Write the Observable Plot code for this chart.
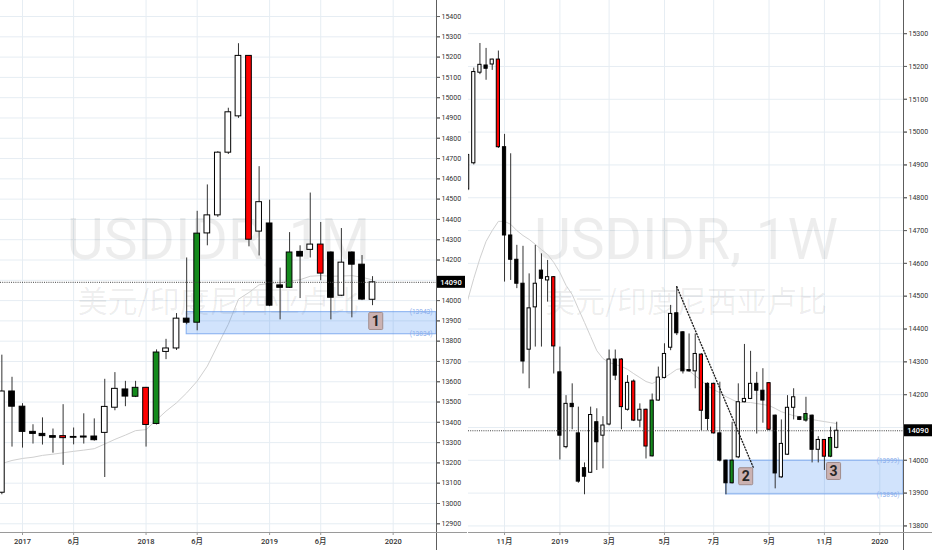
<!DOCTYPE html>
<html>
<head>
<meta charset="utf-8">
<script src="https://cdn.jsdelivr.net/npm/d3@7"></script>
<script src="https://cdn.jsdelivr.net/npm/@observablehq/plot@0.6"></script>
<style>
  html, body { margin: 0; padding: 0; background: #fff; }
  #chart { position: relative; width: 932px; height: 550px; overflow: hidden; }
  #chart svg { position: absolute; top: 0; }
</style>
</head>
<body>
<div id="chart"></div>
<script>
// ---- monthly bars (left pane, USDIDR 1M) ----
const mDates = ["2016-11-01","2016-12-01","2017-01-01","2017-02-01","2017-03-01","2017-04-01","2017-05-01","2017-06-01",
  "2017-07-01","2017-08-01","2017-09-01","2017-10-01","2017-11-01","2017-12-01","2018-01-01","2018-02-01","2018-03-01",
  "2018-04-01","2018-05-01","2018-06-01","2018-07-01","2018-08-01","2018-09-01","2018-10-01","2018-11-01","2018-12-01",
  "2019-01-01","2019-02-01","2019-03-01","2019-04-01","2019-05-01","2019-06-01","2019-07-01","2019-08-01","2019-09-01",
  "2019-10-01","2019-11-01"];
const mOpen  = [13053,13552,13477,13353,13343,13332,13332,13328,13330,13330,13348,13472,13562,13526,13570,13392,13747,13764,13911,13891,14331,14420,14729,14908,15206,14340,14380,14075,14063,14240,14250,14276,14237,14024,14237,14177,14004];
const mHigh  = [13731,13622,13492,13388,13422,13367,13487,13372,13442,13417,13612,13645,13602,13602,13572,13757,13809,13936,14210,14440,14570,14734,14948,15266,15208,14660,14495,14160,14335,14270,14530,14385,14240,14355,14240,14222,14118];
const mLow   = [13043,13278,13273,13293,13288,13248,13188,13289,13293,13307,13128,13457,13477,13522,13278,13387,13709,13754,13881,13851,14270,14410,14720,14898,14265,14220,13970,13905,14060,14010,14210,14098,13905,14020,13915,14000,13975];
const mClose = [13552,13477,13353,13343,13332,13324,13322,13324,13325,13312,13476,13565,13527,13570,13387,13744,13764,13911,13891,14330,14420,14729,14928,15206,14300,14485,13975,14063,14237,14217,14276,14133,14014,14187,14177,14005,14090];
const mMA    = [13197,13212,13222,13228,13237,13243,13250,13257,13263,13270,13293,13316,13337,13359,13364,13412,13455,13496,13545,13603,13677,13781,13883,14007,14040,14078,14085,14088,14095,14103,14120,14123,14120,14121,14123,14115,14102];
const mFlag  = [0,0,0,0,0,0,1,0,0,0,0,0,0,1,1,1,0,0,0,1,0,0,0,0,1,0,0,0,1,0,0,1,0,0,0,0,0];

// ---- weekly bars (right pane, USDIDR 1W) ----
const wDates = ["2018-09-24","2018-10-01","2018-10-08","2018-10-15","2018-10-22","2018-10-29","2018-11-05","2018-11-12",
  "2018-11-19","2018-11-26","2018-12-03","2018-12-10","2018-12-17","2018-12-24","2018-12-31","2019-01-07","2019-01-14",
  "2019-01-21","2019-01-28","2019-02-04","2019-02-11","2019-02-18","2019-02-25","2019-03-04","2019-03-11","2019-03-18",
  "2019-03-25","2019-04-01","2019-04-08","2019-04-15","2019-04-22","2019-04-29","2019-05-06","2019-05-13","2019-05-20",
  "2019-05-27","2019-06-03","2019-06-10","2019-06-17","2019-06-24","2019-07-01","2019-07-08","2019-07-15","2019-07-22",
  "2019-07-29","2019-08-05","2019-08-12","2019-08-19","2019-08-26","2019-09-02","2019-09-09","2019-09-16","2019-09-23",
  "2019-09-30","2019-10-07","2019-10-14","2019-10-21","2019-10-28","2019-11-04","2019-11-11","2019-11-18"];
const wOpen  = [14825,14905,15181,15203,15206,15221,14954,14685,14611,14538,14337,14466,14578,14548,14558,14268,14040,14172,14082,13976,
  13962,14116,14075,14109,14307,14307,14154,14240,14121,14154,14012,14182,14251,14343,14448,14390,14275,14271,14322,14233,
  14233,14082,13999,13930,14009,14177,14187,14233,14212,14235,14136,13948,14017,14160,14131,14121,14136,14032,14062,14011,14038];
const wHigh  = [14935,15195,15270,15255,15222,15247,14993,14934,14655,14652,14568,14655,14629,14609,14560,14345,14197,14233,14162,13992,
  14162,14157,14133,14336,14336,14310,14258,14245,14172,14156,14202,14284,14355,14472,14529,14392,14385,14385,14325,14236,
  14235,14238,14000,14116,14233,14353,14332,14268,14279,14237,14138,14123,14197,14218,14133,14192,14138,14072,14063,14101,14116];
const wLow   = [14820,14900,15175,15158,15188,14950,14543,14548,14523,14263,14218,14345,14345,14482,14263,14001,14035,14093,13930,13895,
  13960,13969,13974,14105,14243,14093,14150,14118,14099,14004,14010,14180,14248,14334,14380,14263,14268,14218,14090,14090,
  14080,13995,13895,13928,14005,14175,14185,14080,14113,14090,13913,13945,14015,14123,14121,14116,13992,13992,13969,14008,14035];
const wClose = [14930,15183,15205,15193,15221,14954,14685,14611,14538,14301,14463,14538,14553,14558,14347,14075,14172,14162,13935,13950,
  14138,14055,14106,14307,14258,14162,14236,14121,14154,14042,14182,14252,14324,14446,14387,14271,14271,14324,14151,14126,
  14082,13999,13930,13999,14177,14187,14233,14212,14182,14093,13960,14050,14160,14192,14123,14141,14032,14062,14011,14068,14090];
const wMA    = [14487,14554,14615,14667,14700,14728,14728,14719,14700,14685,14673,14658,14642,14627,14603,14572,14533,14505,14462,14420,
  14377,14334,14310,14298,14292,14286,14277,14264,14252,14240,14234,14243,14252,14264,14277,14280,14273,14258,14243,14227,
  14215,14206,14194,14185,14176,14176,14176,14173,14170,14167,14158,14148,14142,14136,14133,14130,14124,14121,14118,14115,14112];
const wFlag  = [0,0,0,0,0,1,0,0,0,0,0,0,0,0,1,0,0,0,0,0,0,0,0,0,0,1,0,1,0,1,1,0,0,0,0,0,0,0,1,0,1,0,0,1,0,0,0,0,0,1,0,0,0,0,0,1,0,0,1,1,0];

// ---- axes ----
const mTicks = ["2017-01-01","2017-06-01","2018-01-01","2018-06-01","2019-01-01","2019-06-01","2020-01-01"];
const wTicks = ["2018-11-05","2019-01-07","2019-03-04","2019-05-06","2019-07-01","2019-09-02","2019-11-04","2020-01-06"];
const yTicksL = [12900,13000,13100,13200,13300,13400,13500,13600,13700,13800,13900,14000,14100,14200,14300,14400,14500,14600,14700,14800,14900,15000,15100,15200,15300,15400];
const yTicksR = [13800,13900,14000,14100,14200,14300,14400,14500,14600,14700,14800,14900,15000,15100,15200,15300];

// ---- drawings ----
const lastPrice = 14090;
const zoneL = {from: "2018-05-01", lo: 13834, hi: 13943};
const zoneR = {from: "2019-07-15", lo: 13896, hi: 13999};
const trendR = [{date: "2019-05-20", value: 14529}, {date: "2019-08-15", value: 13979}];
const tagsL = [{date: "2019-11-12", value: 13897, text: "1"}];
const tagsR = [{date: "2019-08-07", value: 13950, text: "2"}, {date: "2019-11-15", value: 13966, text: "3"}];

const FONT = "Roboto, 'Noto Sans CJK SC', sans-serif";
const grid = "#e6edf3";
const fmtTick = d => d.getUTCMonth() === 0 ? String(d.getUTCFullYear()) : (d.getUTCMonth() + 1) + "月";
const candleFill = d => d.close >= d.open ? (d.flag ? "#148a1c" : "#ffffff") : (d.flag ? "#ff0000" : "#000000");

function pane(o) {
  const bars = o.dates.map((t, i) => ({
    date: new Date(t), open: o.open[i], high: o.high[i], low: o.low[i], close: o.close[i], ma: o.ma[i], flag: o.flag[i]
  }));
  const xEnd = new Date(o.xDomain[1]);
  const ticks = o.xTicks.map(t => new Date(t));
  // the last-price tag hides the axis label nearest to it
  const labelTicks = o.yTicks.filter(v => Math.abs(v - o.last) > 40);
  const h = o.halfHours;

  const plot = Plot.plot({
    width: o.width,
    height: 550,
    marginLeft: o.marginLeft,
    marginRight: o.marginRight,
    marginTop: 0,
    marginBottom: 18,
    style: {background: "transparent", fontFamily: FONT, overflow: "visible"},
    x: {type: "utc", domain: [new Date(o.xDomain[0]), xEnd]},
    y: {domain: o.yDomain},
    color: {type: "identity"},
    marks: [
      Plot.gridY(o.yTicks, {stroke: grid, strokeOpacity: 1}),
      Plot.gridX(ticks, {stroke: grid, strokeOpacity: 1}),

      // watermark
      Plot.text([o.symbol], {text: d => d, frameAnchor: "middle", dy: -26, fontSize: 57, fill: "#000", fillOpacity: 0.07, fontFamily: FONT}),
      Plot.text([o.name], {text: d => d, frameAnchor: "middle", dy: 36, fontSize: 30, fill: "#000", fillOpacity: 0.07, fontFamily: "'Noto Sans CJK SC'"}),

      // moving average
      Plot.line(bars, {x: "date", y: "ma", stroke: "#d0d0d0", strokeWidth: 1, clip: true}),

      // demand zone
      Plot.rect([o.zone], {x1: d => new Date(d.from), x2: () => xEnd, y1: "lo", y2: "hi",
        fill: "#2f7ef0", fillOpacity: 0.22, stroke: "#5b93ea", strokeOpacity: 0.7}),
      Plot.text([o.zone.hi, o.zone.lo], {y: d => d, text: d => `(${d})`, frameAnchor: "right", textAnchor: "end",
        dx: -4, fontSize: 6.5, fill: "#8aaceb"}),

      // candles
      Plot.ruleX(bars, {x: "date", y1: "low", y2: "high", stroke: "#333", strokeWidth: 1, clip: true}),
      Plot.rect(bars, {
        x1: d => d3.utcHour.offset(d.date, -h), x2: d => d3.utcHour.offset(d.date, h),
        y1: "open", y2: "close", fill: candleFill, stroke: "#000", strokeWidth: 1, clip: true
      }),

      ...(o.trend ? [Plot.line(o.trend, {x: d => new Date(d.date), y: "value", stroke: "#222", strokeWidth: 1.4,
        strokeDasharray: "1,2", strokeLinecap: "round"})] : []),

      // last price
      Plot.ruleY([o.last], {stroke: "#444", strokeDasharray: "1,1.2"}),

      Plot.frame({anchor: "right", stroke: "#5d5d5d"}),
      Plot.frame({anchor: "bottom", stroke: "#9a9a9a"}),
      Plot.axisY(o.yTicks, {anchor: "right", tickSize: 3, text: null, stroke: "#666"}),
      Plot.axisY(labelTicks, {anchor: "right", tickSize: 3, tickPadding: 2, tickFormat: d => String(d),
        fontSize: 7, fill: "#333", stroke: "#666"}),
      Plot.axisX(ticks, {anchor: "bottom", tickSize: 3, tickPadding: 3, tickFormat: fmtTick,
        fontSize: 7.5, fontWeight: 500, fill: "#333", stroke: "#999"})
    ]
  });

  // things that sit in the margins or need pixel sized boxes
  const svg = d3.select(plot);
  const sx = plot.scale("x"), sy = plot.scale("y");
  const right = o.width - o.marginRight;
  svg.append("line").attr("x1", right + 0.5).attr("x2", right + 0.5).attr("y1", 532).attr("y2", 550).attr("stroke", "#5d5d5d");
  svg.append("line").attr("x1", right).attr("x2", o.width).attr("y1", 532.5).attr("y2", 532.5).attr("stroke", "#9a9a9a");

  const yp = sy.apply(o.last);
  svg.append("rect").attr("x", right + 1).attr("y", yp - 6).attr("width", 28).attr("height", 12).attr("fill", "#000");
  svg.append("text").attr("x", right + 15).attr("y", yp).attr("dy", "0.36em").attr("text-anchor", "middle")
    .attr("fill", "#fff").attr("font-size", 7.5).attr("font-weight", 500).attr("font-family", FONT).text(o.last);

  for (const t of o.tags) {
    const cx = sx.apply(new Date(t.date)), cy = sy.apply(t.value);
    svg.append("rect").attr("x", cx - 7).attr("y", cy - 8.5).attr("width", 14).attr("height", 17).attr("rx", 1)
      .attr("fill", "#cbb2b2").attr("stroke", "#a08c8c");
    svg.append("text").attr("x", cx).attr("y", cy).attr("dy", "0.36em").attr("text-anchor", "middle")
      .attr("font-size", 14).attr("font-weight", "bold").attr("font-family", FONT).attr("fill", "#262626").text(t.text);
  }

  plot.style.left = o.left + "px";
  return plot;
}

const chart = document.getElementById("chart");

chart.append(pane({
  left: 0, width: 467, marginLeft: 0, marginRight: 31,
  dates: mDates, open: mOpen, high: mHigh, low: mLow, close: mClose, ma: mMA, flag: mFlag,
  xDomain: ["2016-10-28", "2020-05-08"], yDomain: [12857, 15479],
  xTicks: mTicks, yTicks: yTicksL, halfHours: 202,
  zone: zoneL, tags: tagsL, last: lastPrice,
  symbol: "USDIDR, 1M", name: "美元/印度尼西亚卢比"
}));

chart.append(pane({
  left: 467, width: 465, marginLeft: 1, marginRight: 29,
  dates: wDates, open: wOpen, high: wHigh, low: wLow, close: wClose, ma: wMA, flag: wFlag,
  xDomain: ["2018-09-25", "2020-02-02"], yDomain: [13780, 15401],
  xTicks: wTicks, yTicks: yTicksR, halfHours: 44,
  zone: zoneR, tags: tagsR, trend: trendR, last: lastPrice,
  symbol: "USDIDR, 1W", name: "美元/印度尼西亚卢比"
}));
</script>
</body>
</html>
